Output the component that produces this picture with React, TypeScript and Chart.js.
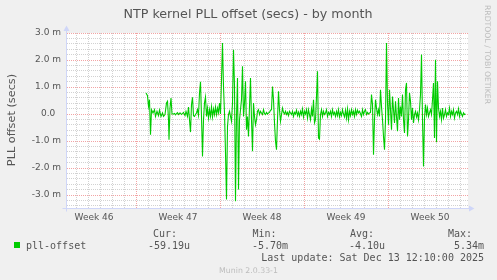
import React, { useEffect, useRef } from 'react';
import { Chart, registerables } from 'chart.js';

Chart.register(...registerables);

// ---- Text ----
const TITLE = 'NTP kernel PLL offset (secs) - by month';
const Y_TITLE = 'PLL offset (secs)';
const seriesName = 'pll-offset';
const statHeaders = ['Cur:', 'Min:', 'Avg:', 'Max:'];
const statValues = ['-59.19u', '-5.70m', '-4.10u', '5.34m'];
const lastUpdate = 'Last update: Sat Dec 13 12:10:00 2025';
const muninCredit = 'Munin 2.0.33-1';
const rrdCredit = 'RRDTOOL / TOBI OETIKER';

// ---- Axes (hours since Sun Nov 9 00:00; offsets in milliseconds) ----
const weekLabels = ['Week 46', 'Week 47', 'Week 48', 'Week 49', 'Week 50'];
const weekLabelHours = [84, 252, 420, 588, 756];
const weekStartHours = [168, 336, 504, 672];
const xMinHour = 30;
const xMaxHour = 832;
const yMinMs = -3.5;
const yMaxMs = 3.0;

// ---- Series: [hour, offset in ms] ----
const pllOffsetSamples: [number, number][] = [
  [188, 0.78], [191, 0.68], [193, 0.28], [195, 0.53], [197, -0.77], [199, 0.16], [202, 0.04], [205, 0.16],
  [207, -0.09], [210, 0.10], [213, -0.06], [215, 0.14], [218, -0.09], [221, 0.04], [223, -0.09], [226, -0.02],
  [229, 0.41], [231, 0.47], [233, -0.21], [234, -0.95], [236, 0.22], [238, 0.59], [240, 0], [243, 0],
  [245, 0.02], [247, -0.03], [249, 0.01], [251, 0.05], [253, -0.02], [256, 0.04], [259, -0.02], [263, 0.06],
  [266, -0.06], [268, 0.10], [271, -0.09], [273, 0.26], [275, -0.21], [277, -0.67], [279, 0.35], [281, 0.62],
  [283, -0.06], [285, -0.09], [287, -0.02], [289, 0.04], [291, 0.16], [293, -0.05], [295, 0.78], [297, 1.19],
  [299, -0.09], [301, -1.57], [303, -0.21], [305, 0.41], [307, 0.63], [309, -0.09], [311, 0.22], [313, -0.15],
  [315, 0.16], [317, -0.09], [319, 0.26], [321, -0.11], [323, 0.19], [325, -0.02], [327, 0.26], [329, -0.02],
  [331, 0.22], [333, 0.04], [335, 0.41], [337, 0], [339, 1.27], [341, 2.63], [343, 1.02], [345, 0.04],
  [347, -1.44], [349, -3.17], [351, -0.46], [353, -0.02], [355, 0.10], [357, -0.09], [359, -0.27], [361, 0.41],
  [363, 2.38], [365, 1.02], [367, -3.23], [369, -0.09], [371, 1.33], [373, -2.80], [375, -0.21], [377, 0.16],
  [379, 0.53], [381, 1.77], [383, -0.09], [385, 0.41], [387, 1.21], [389, -0.58], [391, -0.09], [393, -0.83],
  [395, 0.28], [397, 1.33], [399, -0.21], [401, -1.38], [403, 0.41], [405, -0.09], [407, -0.40], [409, -0.21],
  [411, 0.10], [413, 0.16], [415, -0.02], [417, 0.10], [419, 0.04], [421, -0.02], [423, 0.16], [425, 0.01],
  [427, -0.02], [429, 0.06], [431, 0], [433, 0.04], [435, 0.06], [437, 0.14], [439, 0.16], [441, 1.02],
  [443, 0.53], [445, -0.33], [447, -1.01], [449, -1.32], [451, -0.21], [453, 0.84], [455, 0.16], [457, -0.27],
  [459, -0.02], [461, 0.22], [463, 0.06], [465, 0], [467, 0.10], [469, -0.02], [471, 0.06], [473, -0.06],
  [475, 0.10], [477, 0.04], [479, -0.02], [481, 0.10], [483, -0.09], [485, 0.06], [487, 0], [489, 0.14],
  [491, -0.06], [493, 0.07], [495, -0.09], [497, 0.10], [499, -0.02], [501, 0.19], [503, -0.11], [505, 0.10],
  [507, 0], [509, 0.16], [511, -0.15], [513, 0.16], [515, -0.02], [517, -0.21], [519, 0.19], [521, -0.09],
  [523, 0.53], [525, -0.33], [527, -0.21], [529, 0.65], [531, 1.58], [533, -0.89], [535, -0.93], [537, -0.02],
  [539, 0.16], [541, -0.09], [543, 0.10], [545, -0.02], [547, 0.04], [549, 0.16], [551, -0.09], [553, 0.06],
  [555, -0.02], [557, 0.10], [559, -0.09], [561, 0.16], [563, -0.02], [565, 0.06], [567, -0.09], [569, 0.10],
  [571, -0.06], [573, 0.16], [575, -0.11], [577, 0.06], [579, -0.06], [581, 0.16], [583, 0], [585, -0.11],
  [587, 0.14], [589, -0.15], [591, 0.19], [593, -0.21], [595, 0.10], [597, -0.06], [599, 0.16], [601, -0.02],
  [603, 0.10], [605, -0.09], [607, 0.16], [609, -0.02], [611, 0.14], [613, 0.04], [615, 0.10], [617, 0.01],
  [619, -0.09], [621, 0.16], [623, -0.02], [625, 0.10], [627, 0.16], [629, -0.02], [631, 0.06], [633, 0],
  [635, 0.04], [637, 0.06], [639, 0.72], [641, 0.35], [643, -1.51], [645, -0.21], [647, 0.53], [649, 0.22],
  [651, -0.02], [653, 0.16], [655, -0.09], [657, 0.90], [659, 0.28], [661, -0.21], [663, -0.83], [665, -1.32],
  [667, -0.21], [669, 2.63], [671, 0.41], [673, -0.40], [675, 0.90], [677, 0.16], [679, -0.58], [681, 0.65],
  [683, 0.16], [685, -0.33], [687, 0.47], [689, -0.09], [691, -0.64], [693, 0.59], [695, -0.21], [697, 0.28],
  [699, -0.09], [701, 0.72], [703, -0.21], [705, -0.70], [707, 0.90], [709, 1.15], [711, -0.83], [713, -0.21],
  [715, 0.78], [717, 0.47], [719, -0.21], [721, 0.22], [723, -0.33], [725, -0.02], [727, 0.10], [729, -0.11],
  [731, 0.04], [733, -0.21], [735, 0.16], [737, 0.72], [739, 2.20], [741, -0.21], [743, -1.94], [745, -0.15],
  [747, 0.35], [749, -0.02], [751, 0.22], [753, -0.09], [755, 0.04], [757, 0.16], [759, -0.02], [761, 0.53],
  [763, 1.15], [765, -0.89], [767, 2.01], [769, -1.05], [771, 1.21], [773, 0.22], [775, -0.09], [777, 0.10],
  [779, -0.21], [781, 0.22], [783, -0.15], [785, -0.02], [787, 0.16], [789, -0.09], [791, 0.04], [793, -0.02],
  [795, 0.22], [797, -0.09], [799, 0.10], [801, -0.02], [803, 0.16], [805, -0.15], [807, 0.04], [809, 0.10],
  [811, -0.02], [813, 0.19], [815, -0.09], [817, 0.10], [819, 0], [821, -0.09], [823, 0.04], [825, -0.02],
  [827, 0],
];

// ---- Styles ----
const BG = '#F0F0F0';
const CANVAS_BG = '#FFFFFF';
const LINE_COLOR = '#00CC00';
const FONT_COLOR = '#555555';
const MINOR_GRID = '#D2D2D2';
const MAJOR_GRID = '#F2A4A4';
const AXIS_COLOR = '#CFD6F8';
const CREDIT_COLOR = '#BDBDBD';
const SANS = '"DejaVu Sans", Verdana, sans-serif';
const MONO = '"DejaVu Sans Mono", monospace';

const muninPlugin = {
  id: 'muninDecor',
  beforeDraw(chart: any) {
    const { ctx, chartArea: a, width, height } = chart;
    ctx.save();
    ctx.fillStyle = BG;
    ctx.fillRect(0, 0, width, height);
    ctx.fillStyle = CANVAS_BG;
    ctx.fillRect(a.left, a.top, a.right - a.left, a.bottom - a.top);
    ctx.restore();
  },
  afterDraw(chart: any) {
    const { ctx, chartArea: a } = chart;
    ctx.save();
    // axes with arrows
    ctx.strokeStyle = AXIS_COLOR;
    ctx.fillStyle = AXIS_COLOR;
    ctx.lineWidth = 1;
    const yx = Math.round(a.left) - 0.5;
    const xy = Math.floor(a.bottom) + 0.5;
    ctx.beginPath();
    ctx.moveTo(yx, xy + 3);
    ctx.lineTo(yx, a.top - 3);
    ctx.moveTo(yx - 4, xy);
    ctx.lineTo(a.right + 2, xy);
    ctx.stroke();
    ctx.beginPath();
    ctx.moveTo(yx - 3, a.top - 2);
    ctx.lineTo(yx + 3, a.top - 2);
    ctx.lineTo(yx, a.top - 7.5);
    ctx.closePath();
    ctx.fill();
    ctx.beginPath();
    ctx.moveTo(a.right + 1, xy - 3);
    ctx.lineTo(a.right + 1, xy + 3);
    ctx.lineTo(a.right + 6.5, xy);
    ctx.closePath();
    ctx.fill();

    // title
    ctx.fillStyle = FONT_COLOR;
    ctx.font = `12.7px ${SANS}`;
    ctx.textAlign = 'center';
    ctx.textBaseline = 'alphabetic';
    ctx.fillText(TITLE, 248, 18);

    // y-axis title
    ctx.save();
    ctx.translate(15, 120);
    ctx.rotate(-Math.PI / 2);
    ctx.font = `11.3px ${SANS}`;
    ctx.textAlign = 'center';
    ctx.fillText(Y_TITLE, 0, 0);
    ctx.restore();

    // rrdtool credit
    ctx.save();
    ctx.translate(485, 5);
    ctx.rotate(Math.PI / 2);
    ctx.font = `7.7px ${SANS}`;
    ctx.fillStyle = CREDIT_COLOR;
    ctx.textAlign = 'left';
    ctx.fillText(rrdCredit, 0, 0);
    ctx.restore();

    // legend
    ctx.font = `10px ${MONO}`;
    ctx.textAlign = 'left';
    const headerX = [153, 252.5, 350, 448];
    statHeaders.forEach((h, i) => ctx.fillText(h, headerX[i], 237));
    ctx.fillStyle = LINE_COLOR;
    ctx.fillRect(14, 242, 6, 6);
    ctx.fillStyle = FONT_COLOR;
    ctx.fillText(seriesName, 26, 249);
    const valueX = [148, 252, 349];
    statValues.forEach((v, i) => {
      if (i < 3) {
        ctx.textAlign = 'left';
        ctx.fillText(v, valueX[i], 249);
      } else {
        ctx.textAlign = 'right';
        ctx.fillText(v, 484, 249);
      }
    });
    ctx.textAlign = 'right';
    ctx.fillText(lastUpdate, 484, 261);

    // munin credit
    ctx.font = `7.8px ${SANS}`;
    ctx.fillStyle = CREDIT_COLOR;
    ctx.textAlign = 'center';
    ctx.fillText(muninCredit, 248.5, 272.5);
    ctx.restore();
  },
};

export default function App() {
  const ref = useRef<HTMLCanvasElement>(null);

  useEffect(() => {
    const canvas = ref.current;
    if (!canvas) return;
    const xTicks: number[] = [];
    for (let h = 36; h <= 828; h += 12) xTicks.push(h);
    const yTicks: number[] = [];
    for (let k = -17; k <= 15; k++) yTicks.push(k / 5);

    const chart = new Chart(canvas, {
      type: 'line',
      data: {
        datasets: [
          {
            label: seriesName,
            data: pllOffsetSamples.map(([h, v]) => ({ x: h, y: v })),
            borderColor: LINE_COLOR,
            borderWidth: 1.1,
            pointRadius: 0,
            fill: false,
            tension: 0,
          },
        ],
      },
      options: {
        responsive: false,
        animation: false,
        devicePixelRatio: 1,
        events: [],
        layout: { padding: { top: 33, right: 29, bottom: 0, left: 0 } },
        plugins: {
          legend: { display: false },
          title: { display: false },
          tooltip: { enabled: false },
        },
        scales: {
          x: {
            type: 'linear',
            min: xMinHour,
            max: xMaxHour,
            afterBuildTicks: (scale: any) => {
              scale.ticks = xTicks.map((v) => ({ value: v }));
            },
            afterFit: (scale: any) => {
              scale.height = 71.5;
            },
            grid: {
              drawTicks: false,
              lineWidth: 1,
              color: (c: any) => {
                const v = c.tick ? c.tick.value : 0;
                if (weekStartHours.includes(v)) return MAJOR_GRID;
                if (v % 24 === 0) return MINOR_GRID;
                return 'rgba(0,0,0,0)';
              },
            },
            border: { display: false, dash: [1, 1] },
            ticks: {
              autoSkip: false,
              maxRotation: 0,
              padding: 4,
              color: FONT_COLOR,
              font: { family: SANS, size: 9 },
              callback: (value: any) => {
                const idx = weekLabelHours.indexOf(Number(value));
                return idx >= 0 ? weekLabels[idx] : '';
              },
            },
          },
          y: {
            type: 'linear',
            min: yMinMs,
            max: yMaxMs,
            afterBuildTicks: (scale: any) => {
              scale.ticks = yTicks.map((v) => ({ value: v }));
            },
            afterFit: (scale: any) => {
              scale.width = 67;
            },
            grid: {
              drawTicks: false,
              lineWidth: 1,
              color: (c: any) => {
                const v = c.tick ? c.tick.value : 0;
                return Math.round(v * 5) % 5 === 0 ? MAJOR_GRID : MINOR_GRID;
              },
            },
            border: { display: false, dash: [1, 1] },
            ticks: {
              autoSkip: false,
              padding: 6,
              color: FONT_COLOR,
              font: { family: SANS, size: 9 },
              callback: (value: any) => {
                const k = Math.round(Number(value) * 5);
                if (k % 5 !== 0) return '';
                const m = k / 5;
                return m === 0 ? '0.0  ' : `${m.toFixed(1)} m`;
              },
            },
          },
        },
      },
      plugins: [muninPlugin],
    });
    return () => chart.destroy();
  }, []);

  return (
    <div style={{ position: 'absolute', left: 0, top: 0, width: 497, height: 280, background: BG }}>
      <canvas ref={ref} width={497} height={280} style={{ display: 'block', width: 497, height: 280 }} />
    </div>
  );
}
